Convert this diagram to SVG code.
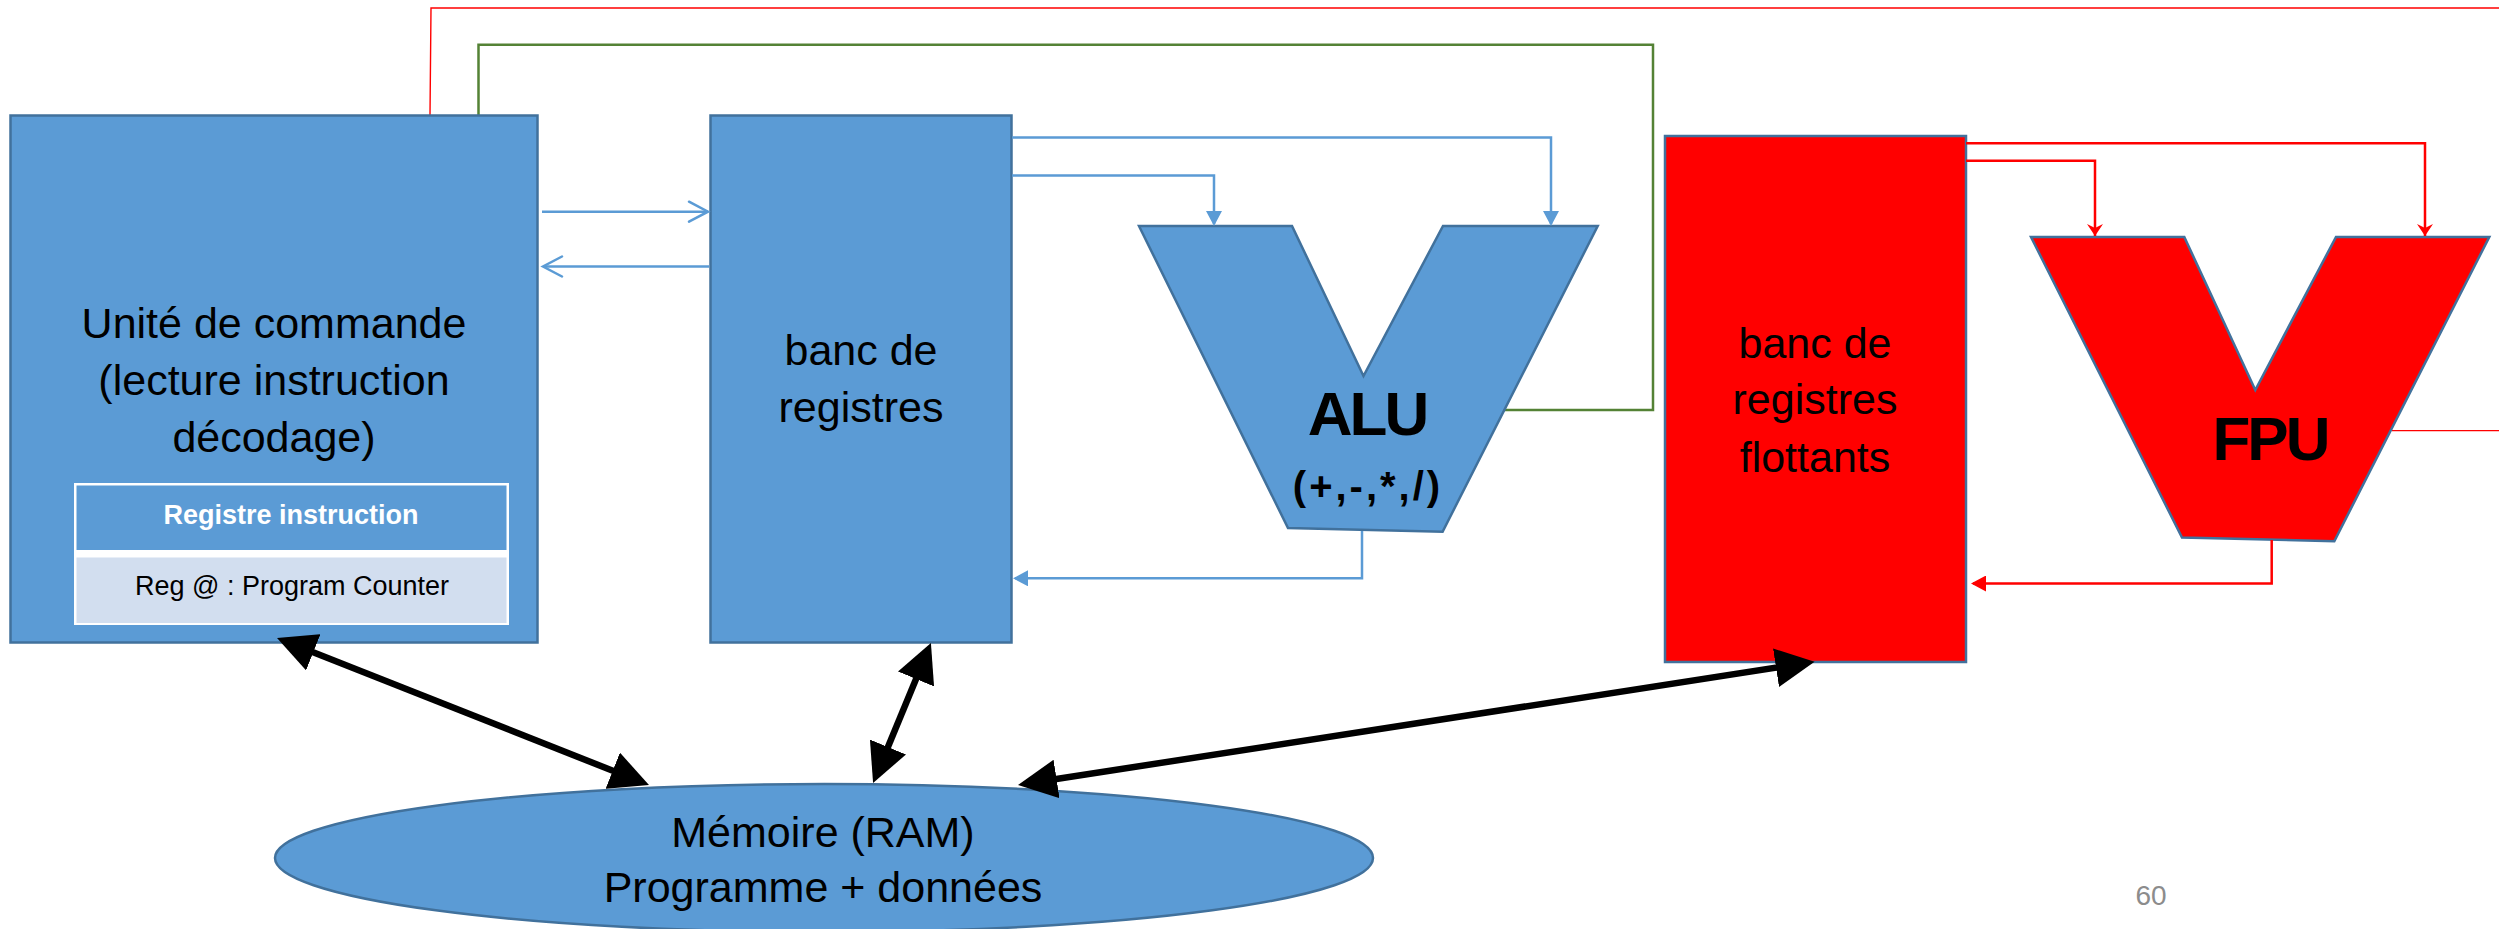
<svg xmlns="http://www.w3.org/2000/svg" width="2499" height="929" viewBox="0 0 2499 929">
<style>
.box{fill:#5B9BD5;stroke:#41719C;stroke-width:2.5}
.rbox{fill:#FF0000;stroke:#41719C;stroke-width:2.5}
.lbl{font-family:"Liberation Sans",Arial,sans-serif;font-size:43px;fill:#000;text-anchor:middle}
.big{font-family:"Liberation Sans",Arial,sans-serif;font-weight:bold;font-size:62px;fill:#000;text-anchor:middle;letter-spacing:-3px}
.ops{font-family:"Liberation Sans",Arial,sans-serif;font-weight:bold;font-size:40px;fill:#000;text-anchor:middle;letter-spacing:3px}
.bl{fill:none;stroke:#5B9BD5;stroke-width:2.5}
.rl{fill:none;stroke:#FF0000;stroke-width:2.5}
.thin{fill:none;stroke:#FF0000;stroke-width:1.4}
.gl{fill:none;stroke:#548235;stroke-width:2.5}
.mem{fill:none;stroke:#000;stroke-width:6.5}
</style>
<defs>
<marker id="chev" viewBox="-2 -2 24 24" refX="19" refY="10" markerWidth="24" markerHeight="24" markerUnits="userSpaceOnUse" orient="auto">
<path d="M0,0 L19,10 L0,20" fill="none" stroke="#5B9BD5" stroke-width="2.5" stroke-linecap="round"/>
</marker>
<marker id="triB" viewBox="0 0 15 16" refX="13" refY="8" markerWidth="15" markerHeight="16" markerUnits="userSpaceOnUse" orient="auto">
<path d="M0,0 L15,8 L0,16 z" fill="#5B9BD5"/>
</marker>
<marker id="triR" viewBox="0 0 15 16" refX="13" refY="8" markerWidth="15" markerHeight="16" markerUnits="userSpaceOnUse" orient="auto">
<path d="M0,0 L15,8 L0,16 z" fill="#FF0000"/>
</marker>
<marker id="stealthR" viewBox="0 -9 13 18" refX="12" refY="0" markerWidth="13" markerHeight="18" markerUnits="userSpaceOnUse" orient="auto">
<path d="M0,-8 L12,0 L0,8 L4,0 z" fill="#FF0000"/>
</marker>
<marker id="big" viewBox="0 0 10 10" refX="3" refY="5" markerWidth="39" markerHeight="39" markerUnits="userSpaceOnUse" orient="auto-start-reverse">
<path d="M0,0 L10,5 L0,10 z" fill="#000"/>
</marker>
</defs>

<g id="connectors-back">
<path class="thin" d="M2392,430.6 H2512 V8 H431 L430,115"/>
<path class="gl" d="M478.5,115 V44.7 H1653 V410 H1504"/>
</g>

<g id="unite-commande">
<rect class="box" x="10.5" y="115.5" width="527" height="527"/>
<text class="lbl" x="274" y="338">Unité de commande</text>
<text class="lbl" x="274" y="395">(lecture instruction</text>
<text class="lbl" x="274" y="452">décodage)</text>
</g>

<g id="registre-instruction">
<rect x="74" y="483" width="435" height="142" fill="#FFFFFF"/>
<rect x="76.5" y="485.5" width="430" height="64.5" fill="#5B9BD5"/>
<rect x="76.5" y="557.5" width="430" height="65.5" fill="#D2DEEF"/>
<text x="291" y="523.5" font-family="'Liberation Sans',Arial,sans-serif" font-weight="bold" font-size="27" fill="#FFFFFF" text-anchor="middle">Registre instruction</text>
<text x="292" y="594.5" font-family="'Liberation Sans',Arial,sans-serif" font-size="27" fill="#000" text-anchor="middle">Reg @ : Program Counter</text>
</g>

<g id="banc-registres">
<rect class="box" x="710.5" y="115.5" width="301" height="527"/>
<text class="lbl" x="861" y="365">banc de</text>
<text class="lbl" x="861" y="422">registres</text>
</g>

<g id="alu">
<polygon class="box" points="1139,226 1292,226 1363.5,376 1443,226 1597.7,226 1442.6,531.7 1288,528"/>
<text class="big" x="1367" y="435">ALU</text>
<text class="ops" x="1368" y="500">(+,-,*,/)</text>
</g>

<g id="banc-registres-flottants">
<rect class="rbox" x="1665" y="136" width="301" height="526"/>
<text class="lbl" x="1815" y="358">banc de</text>
<text class="lbl" x="1815" y="414">registres</text>
<text class="lbl" x="1815" y="472">flottants</text>
</g>

<g id="fpu">
<polygon class="rbox" points="2031,237 2184.3,237 2255.3,390 2336,237 2489.3,237 2334.3,541.2 2182,537.5"/>
<text class="big" x="2270" y="460">FPU</text>
</g>

<g id="memoire">
<ellipse class="box" cx="824" cy="858" rx="549" ry="74"/>
<text class="lbl" x="823" y="846.7">Mémoire (RAM)</text>
<text class="lbl" x="823" y="901.7">Programme + données</text>
</g>

<g id="connectors">
<path class="bl" d="M542,211.7 H708" marker-end="url(#chev)"/>
<path class="bl" d="M709,266.5 H543" marker-end="url(#chev)"/>
<path class="bl" d="M1012,137.5 H1551 V224" marker-end="url(#triB)"/>
<path class="bl" d="M1012,175.5 H1214 V224" marker-end="url(#triB)"/>
<path class="bl" d="M1362,531 V578.3 H1015" marker-end="url(#triB)"/>
<path class="rl" d="M1966,143.3 H2425 V236" marker-end="url(#stealthR)"/>
<path class="rl" d="M1966,160.7 H2095 V236" marker-end="url(#stealthR)"/>
<path class="rl" d="M2271.7,540 V583.5 H1973" marker-end="url(#triR)"/>
<line class="mem" x1="302.4" y1="648" x2="623.6" y2="775" marker-start="url(#big)" marker-end="url(#big)"/>
<line class="mem" x1="920.5" y1="668.2" x2="883.5" y2="757.8" marker-start="url(#big)" marker-end="url(#big)"/>
<line class="mem" x1="1045" y1="780.8" x2="1787.6" y2="665.9" marker-start="url(#big)" marker-end="url(#big)"/>
</g>

<text x="2151" y="905" font-family="'Liberation Sans',Arial,sans-serif" font-size="28" fill="#8C8C8C" text-anchor="middle">60</text>
</svg>
